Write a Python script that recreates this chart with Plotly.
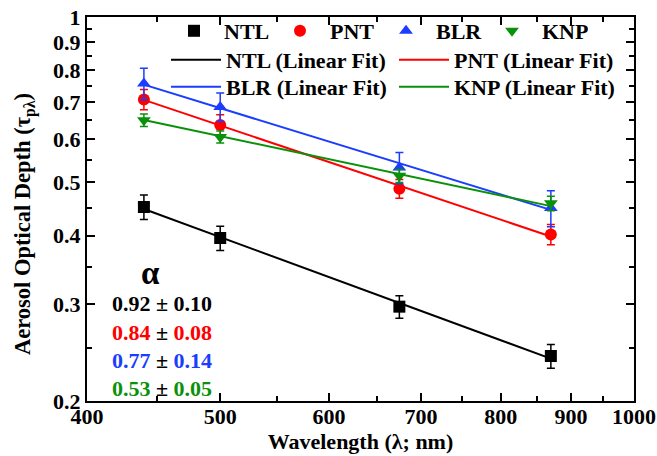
import numpy as np
import plotly.graph_objects as go

# Wavelengths (nm) and aerosol optical depth per site
wavelength = [440, 500, 675, 870]
sites = ["NTL", "PNT", "BLR", "KNP"]
aod_ntl = [0.451, 0.396, 0.297, 0.2415]
aod_pnt = [0.708, 0.636, 0.487, 0.402]
aod_blr = [0.757, 0.686, 0.532, 0.449]
aod_knp = [0.649, 0.605, 0.514, 0.458]
err_ntl = [0.023, 0.020, 0.014, 0.012]
err_pnt = [0.030, 0.028, 0.019, 0.017]
err_blr = [0.050, 0.041, 0.035, 0.034]
err_knp = [0.017, 0.015, 0.014, 0.014]

# Angstrom exponents and their uncertainties
alpha = [0.92, 0.84, 0.77, 0.53]
alpha_err = [0.10, 0.08, 0.14, 0.05]

x_ticks = [400, 500, 600, 700, 800, 900, 1000]
x_minor = [450, 550, 650, 750, 850, 950]
y_ticks = [0.2, 0.3, 0.4, 0.5, 0.6, 0.7, 0.8, 0.9, 1.0]
y_ticktext = ["0.2", "0.3", "0.4", "0.5", "0.6", "0.7", "0.8", "0.9", "1"]
y_minor = [0.25, 0.35, 0.45, 0.55, 0.65, 0.75, 0.85, 0.95]

colors = ["#000000", "#ff0000", "#1a3dff", "#0a910a"]
symbols = ["square", "circle", "triangle-up", "triangle-down"]
aods = [aod_ntl, aod_pnt, aod_blr, aod_knp]
errs = [err_ntl, err_pnt, err_blr, err_knp]

FONT = "Liberation Serif"
bold = lambda size, color="black": dict(family=FONT, size=size, color=color, weight="bold")

fig = go.Figure()

# Power-law fits: ln(tau) = b - alpha * ln(lambda)
lx = np.log(np.array(wavelength, dtype=float))
fit_x = [wavelength[0], wavelength[-1]]
for name, aod, a, c in zip(sites, aods, alpha, colors):
    ly = np.log(np.array(aod))
    b = ly.mean() + a * lx.mean()
    fit_y = [float(np.exp(b - a * np.log(v))) for v in fit_x]
    fig.add_trace(go.Scatter(
        x=fit_x, y=fit_y, mode="lines", name=f"{name} (Linear Fit)",
        line=dict(color=c, width=2),
        legend="legend2" if name in ("NTL", "PNT") else "legend3",
    ))

for name, aod, e, c, s in zip(sites, aods, errs, colors, symbols):
    fig.add_trace(go.Scatter(
        x=wavelength, y=aod, mode="markers", name=name,
        marker=dict(symbol=s, size=12, color=c),
        error_y=dict(type="data", array=e, color=c, thickness=1.5, width=4),
        legend="legend",
    ))

axis_common = dict(
    type="log", showline=True, linecolor="black", linewidth=2, mirror="ticks",
    ticks="inside", ticklen=8, tickwidth=1.5, tickcolor="black",
    showgrid=False, zeroline=False, tickfont=bold(22),
)

fig.update_xaxes(
    **axis_common, range=[np.log10(400), np.log10(1000)],
    tickmode="array", tickvals=x_ticks, ticktext=[str(v) for v in x_ticks],
    ticklabelstandoff=-5,
    minor=dict(tickmode="array", tickvals=x_minor, ticks="inside", ticklen=5,
               tickwidth=1.5, tickcolor="black"),
    title=dict(text="Wavelength (λ; nm)", font=bold(22), standoff=2),
)
fig.update_yaxes(
    **axis_common, range=[np.log10(0.2), 0],
    tickmode="array", tickvals=y_ticks, ticktext=y_ticktext,
    minor=dict(tickmode="array", tickvals=y_minor, ticks="inside", ticklen=5,
               tickwidth=1.5, tickcolor="black"),
)

def row_legend(x_px, y_px, entry, item):
    return dict(orientation="h", xref="container", yref="container",
                x=x_px / 657, y=1 - y_px / 456, xanchor="left", yanchor="top",
                bgcolor="rgba(0,0,0,0)", font=bold(22),
                entrywidth=entry, itemwidth=item)

fig.update_layout(
    width=657, height=456,
    margin=dict(l=87, r=23, t=17, b=55, autoexpand=False),
    paper_bgcolor="white", plot_bgcolor="white",
    font=bold(22),
    legend=row_legend(164, 10, 41, 50),
    legend2=row_legend(166, 39, 163, 50),
    legend3=row_legend(166, 66, 163, 50),
)

# Vertical axis title
fig.add_annotation(
    x=(24 - 87) / 547, y=(401 - 224) / 384, xref="paper", yref="paper",
    text="Aerosol Optical Depth (τ<sub>pλ</sub>)", textangle=-90, showarrow=False,
    xanchor="center", yanchor="middle", font=bold(22.5),
)

# Angstrom exponent panel
fig.add_annotation(x=(150 - 87) / 547, y=(401 - 273) / 384, xref="paper", yref="paper",
                   text="α", showarrow=False, font=bold(33),
                   xanchor="center", yanchor="middle")
row_y = [303, 332, 360, 388]
for a, ae, c, py in zip(alpha, alpha_err, colors, row_y):
    fig.add_annotation(
        x=(110 - 87) / 547, y=(401 - py) / 384, xref="paper", yref="paper",
        text=f"<span style='color:{c}'>{a:.2f}</span> ± <span style='color:{c}'>{ae:.2f}</span>",
        showarrow=False, xanchor="left", yanchor="middle", font=bold(22),
    )

fig.write_html("out.html")
